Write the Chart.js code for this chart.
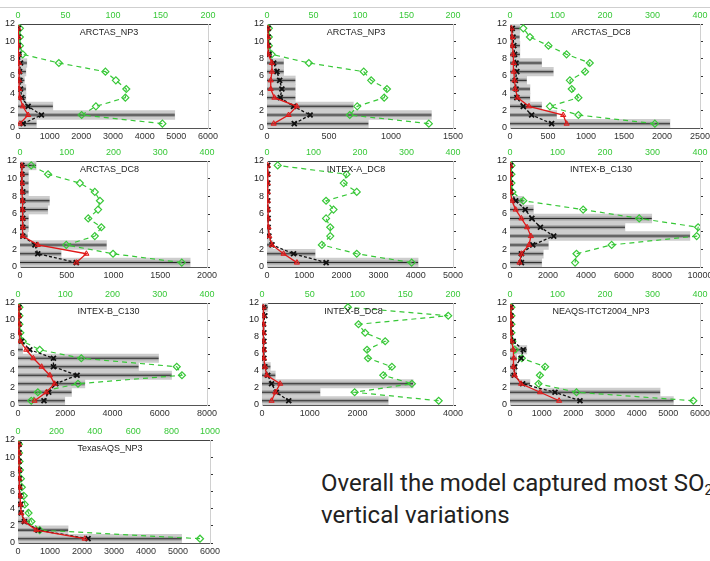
<!DOCTYPE html>
<html>
<head>
<meta charset="utf-8">
<script src="https://cdn.jsdelivr.net/npm/chart.js@4.4.1/dist/chart.umd.min.js"></script>
<style>
  html, body { margin: 0; background: #fff; }
  #page { position: relative; width: 710px; height: 561px; overflow: hidden; }
  #topline { position: absolute; left: 0; top: 7px; width: 710px; height: 1px; background: #cfcfcf; }
  canvas { position: absolute; }
  #note {
    position: absolute; left: 321px; top: 467px;
    font-family: Roboto, "Open Sans", sans-serif; font-size: 24px; line-height: 32px;
    color: #222; white-space: nowrap;
  }
  #note sub { font-size: 60%; line-height: 0; vertical-align: -0.3em; }
</style>
</head>
<body>
<div id="page">
  <div id="topline"></div>
  <div id="note">Overall the model captured most SO<sub>2</sub><br>vertical variations</div>
</div>
<script>
/* ── altitude bins (km), shared by every panel ── */
const altitudes = [0.5, 1.5, 2.5, 3.5, 4.5, 5.5, 6.5, 7.5, 8.5, 9.5, 10.5, 11.5];

/* ── per-panel values, lowest bin first ──
   range = grey obs spread, obs = black x line, model = red triangles,
   count = green diamonds (top axis) */
const p1Range = [580, 4950, 1100, 250, 250, 200, 250, 280, 120, 80, 60, 50];
const p1Obs   = [160, 740, 320, 120, 80, 60, 50, 80, 20, 10, 10, 10];
const p1Model = [60, 320, 150, 60, 40, 30, 40, 30, 10, 10, 10, 10];
const p1Count = [152, 67, 82, 113, 114, 103, 92, 43, 5, 2, 2, 2];

const p2Range = [817, 1326, 696, 228, 228, 228, 134, 134, 40, 20, 15, 10];
const p2Obs   = [220, 348, 214, 107, 120, 102, 80, 54, 15, 10, 10, 10];
const p2Model = [54, 174, 240, 60, 30, 30, 40, 40, 10, 8, 8, 8];
const p2Count = [174, 89, 97, 126, 129, 112, 104, 45, 5, 2, 2, 2];

const p3Range = [2105, 614, 417, 263, 263, 219, 570, 417, 130, 130, 125, 130];
const p3Obs   = [548, 285, 175, 90, 80, 70, 90, 80, 60, 50, 40, 30];
const p3Model = [745, 700, 250, 100, 70, 60, 50, 50, 40, 30, 30, 20];
const p3Count = [305, 144, 84, 144, 130, 126, 158, 168, 119, 81, 42, 28];

const p4Range = [1820, 440, 925, 80, 90, 90, 297, 315, 90, 90, 90, 172];
const p4Obs   = [602, 190, 160, 30, 30, 30, 30, 30, 30, 20, 20, 20];
const p4Model = [602, 710, 190, 30, 30, 30, 25, 25, 20, 20, 20, 20];
const p4Count = [346, 199, 99, 160, 174, 146, 167, 171, 160, 128, 60, 24];

const p5Range = [4062, 1295, 150, 60, 40, 30, 30, 20, 20, 20, 20, 20];
const p5Obs   = [1590, 714, 134, 50, 30, 30, 20, 20, 20, 20, 20, 20];
const p5Model = [804, 446, 134, 60, 40, 30, 30, 20, 20, 20, 20, 20];
const p5Count = [311, 193, 118, 136, 136, 127, 143, 127, 193, 165, 171, 23];

const p6Range = [1670, 1750, 2020, 9470, 6050, 7460, 1230, 700, 50, 30, 30, 30];
const p6Obs   = [600, 600, 1200, 2300, 1600, 1150, 800, 300, 50, 30, 30, 30];
const p6Model = [500, 600, 1000, 1100, 900, 600, 300, 100, 30, 20, 20, 20];
const p6Count = [137, 140, 214, 393, 396, 272, 154, 28, 5, 3, 3, 3];

const p7Range = [1980, 2265, 2830, 6500, 5100, 5950, 200, 100, 50, 40, 30, 30];
const p7Obs   = [1100, 1300, 1600, 2500, 1500, 1500, 500, 150, 50, 40, 40, 40];
const p7Model = [700, 1200, 1550, 1350, 1000, 650, 350, 100, 50, 50, 40, 40];
const p7Count = [28, 42, 127, 347, 336, 134, 46, 10, 5, 3, 3, 3];

const p8Range = [2643, 1217, 3165, 278, 174, 50, 40, 40, 40, 40, 40, 122];
const p8Obs   = [560, 300, 200, 120, 60, 40, 40, 40, 40, 30, 60, 40];
const p8Model = [200, 280, 380, 100, 60, 40, 40, 30, 30, 30, 30, 30];
const p8Count = [185, 97, 157, 127, 136, 111, 110, 129, 108, 101, 195, 90];

const p9Range = [5160, 4740, 630, 210, 210, 210, 530, 100, 50, 40, 40, 40];
const p9Obs   = [2210, 1420, 400, 130, 150, 350, 420, 100, 30, 30, 30, 30];
const p9Model = [1550, 950, 350, 150, 110, 120, 100, 50, 30, 30, 30, 30];
const p9Count = [386, 140, 60, 63, 74, 25, 10, 5, 3, 3, 3, 3];

const p10Range = [5113, 1565, 365, 100, 80, 60, 50, 40, 40, 40, 40, 40];
const p10Obs   = [2190, 626, 200, 100, 80, 60, 50, 40, 40, 30, 30, 30];
const p10Model = [2087, 574, 200, 100, 80, 60, 50, 40, 40, 30, 30, 30];
const p10Count = [948, 113, 70, 55, 35, 30, 20, 15, 10, 8, 5, 5];

/* ── panel list: title, axis ranges, and plot box [left, top, width, height] ── */
const panels = [
  { title: 'ARCTAS_NP3',         xMax: 6000,  xStep: 1000, nMax: 200,  nStep: 50,  box: [18, 24, 190, 104],  range: p1Range,  obs: p1Obs,  model: p1Model,  count: p1Count },
  { title: 'ARCTAS_NP3',         xMax: 1500,  xStep: 500,  nMax: 200,  nStep: 50,  box: [267, 24, 186, 104], range: p2Range,  obs: p2Obs,  model: p2Model,  count: p2Count },
  { title: 'ARCTAS_DC8',         xMax: 2500,  xStep: 500,  nMax: 400,  nStep: 100, box: [510, 24, 190, 104], range: p3Range,  obs: p3Obs,  model: p3Model,  count: p3Count },
  { title: 'ARCTAS_DC8',         xMax: 2000,  xStep: 500,  nMax: 400,  nStep: 100, box: [20, 161, 187, 106], range: p4Range,  obs: p4Obs,  model: p4Model,  count: p4Count },
  { title: 'INTEX-A_DC8',        xMax: 5000,  xStep: 1000, nMax: 400,  nStep: 100, box: [267, 161, 186, 106], range: p5Range, obs: p5Obs,  model: p5Model,  count: p5Count },
  { title: 'INTEX-B_C130',       xMax: 10000, xStep: 2000, nMax: 400,  nStep: 100, box: [510, 161, 190, 106], range: p6Range, obs: p6Obs,  model: p6Model,  count: p6Count },
  { title: 'INTEX-B_C130',       xMax: 8000,  xStep: 2000, nMax: 400,  nStep: 100, box: [18, 303, 189, 102], range: p7Range,  obs: p7Obs,  model: p7Model,  count: p7Count },
  { title: 'INTEX-B_DC8',        xMax: 4000,  xStep: 1000, nMax: 200,  nStep: 50,  box: [262, 303, 191, 102], range: p8Range, obs: p8Obs,  model: p8Model,  count: p8Count },
  { title: 'NEAQS-ITCT2004_NP3', xMax: 6000,  xStep: 1000, nMax: 400,  nStep: 100, box: [510, 303, 190, 102], range: p9Range, obs: p9Obs,  model: p9Model,  count: p9Count },
  { title: 'TexasAQS_NP3',       xMax: 6000,  xStep: 1000, nMax: 1000, nStep: 200, box: [18, 440, 192, 103],  range: p10Range, obs: p10Obs, model: p10Model, count: p10Count },
];

const PAD_L = 18, PAD_R = 16, PAD_T = 18, PAD_B = 16;
const GREEN = '#38c838';

Chart.defaults.font.family = '"Liberation Sans", Arial, sans-serif';
Chart.defaults.font.size = 9;

// panel name written inside the plot, near the top
const titlePlugin = {
  id: 'panelTitle',
  afterDraw(chart, args, opts) {
    const { ctx, chartArea } = chart;
    ctx.save();
    ctx.font = '9px "Liberation Sans", Arial, sans-serif';
    ctx.fillStyle = '#222';
    ctx.textAlign = 'center';
    ctx.textBaseline = 'middle';
    ctx.fillText(opts.text, (chartArea.left + chartArea.right) / 2 - 4, chartArea.top + 9);
    ctx.restore();
  }
};

const pts = vals => vals.map((v, i) => ({ x: v, y: altitudes[i] }));
const noPad = s => { s.paddingLeft = 0; s.paddingRight = 0; s.paddingTop = 0; s.paddingBottom = 0; };

function drawPanel(p) {
  const [L, T, W, H] = p.box;
  const cv = document.createElement('canvas');
  cv.width = W + PAD_L + PAD_R;
  cv.height = H + PAD_T + PAD_B;
  cv.style.left = (L - PAD_L) + 'px';
  cv.style.top = (T - PAD_T) + 'px';
  document.getElementById('page').appendChild(cv);

  const bar = (thick, color, order) => ({
    type: 'bar',
    data: p.range.map((v, i) => ({ x: [0, v], y: altitudes[i] })),
    backgroundColor: color,
    barPercentage: thick,
    categoryPercentage: 1,
    grouped: false,
    order,
  });

  new Chart(cv, {
    type: 'bar',
    data: {
      datasets: [
        bar(1, '#cdcdcd', 10),
        bar(0.45, '#a2a2a2', 9),
        bar(0.12, '#2a2a2a', 8),
        {
          type: 'line', data: pts(p.count), xAxisID: 'xn',
          borderColor: GREEN, borderDash: [5, 4], borderWidth: 1.2,
          pointStyle: 'rectRot', pointRadius: 3.5, pointBorderWidth: 1.2,
          pointBorderColor: GREEN, pointBackgroundColor: 'rgba(0,0,0,0)', order: 3,
        },
        {
          type: 'line', data: pts(p.obs),
          borderColor: '#111', borderDash: [3, 2], borderWidth: 1.3,
          pointStyle: 'crossRot', pointRadius: 3.5, pointBorderWidth: 1.8,
          pointBorderColor: '#111', order: 2,
        },
        {
          type: 'line', data: pts(p.model),
          borderColor: '#e01818', borderWidth: 1.3,
          pointStyle: 'triangle', pointRadius: 3, pointBorderWidth: 1,
          pointBorderColor: '#e01818', pointBackgroundColor: 'rgba(230,40,40,0.35)', order: 1,
        },
      ],
    },
    options: {
      indexAxis: 'y',
      responsive: false,
      animation: false,
      devicePixelRatio: 1,
      layout: { padding: 0 },
      events: [],
      plugins: {
        legend: { display: false },
        tooltip: { enabled: false },
        panelTitle: { text: p.title },
      },
      scales: {
        x: {
          type: 'linear', axis: 'x', position: 'bottom', min: 0, max: p.xMax,
          ticks: { stepSize: p.xStep, color: '#333', padding: 3, maxRotation: 0, autoSkip: false, callback: v => String(v) },
          grid: { display: false, drawTicks: false },
          border: { display: true, color: '#555', dash: [1, 4] },
          afterFit: s => { s.height = PAD_B; noPad(s); },
        },
        xn: {
          type: 'linear', axis: 'x', position: 'top', min: 0, max: p.nMax,
          ticks: { stepSize: p.nStep, color: GREEN, padding: 3, maxRotation: 0, autoSkip: false, callback: v => String(v) },
          grid: { display: false, drawTicks: false },
          border: { display: true, color: '#444', dash: [1, 4] },
          afterFit: s => { s.height = PAD_T; noPad(s); },
        },
        y: {
          type: 'linear', axis: 'y', position: 'left', min: 0, max: 12, offset: false,
          ticks: { stepSize: 2, color: '#222', padding: 3 },
          grid: { display: false, drawTicks: false, offset: false },
          border: { display: true, color: '#c8c8c8' },
          afterFit: s => { s.width = PAD_L; noPad(s); },
        },
        yR: {
          type: 'linear', axis: 'y', position: 'right', min: 0, max: 12, offset: false,
          ticks: { stepSize: 2, display: false },
          grid: { display: true, drawOnChartArea: false, drawTicks: true, tickLength: 3, color: '#333', offset: false },
          border: { display: true, color: '#d0d0d0' },
          afterFit: s => { s.width = PAD_R; noPad(s); },
        },
      },
    },
    plugins: [titlePlugin],
  });
}

panels.forEach(drawPanel);
</script>
</body>
</html>
